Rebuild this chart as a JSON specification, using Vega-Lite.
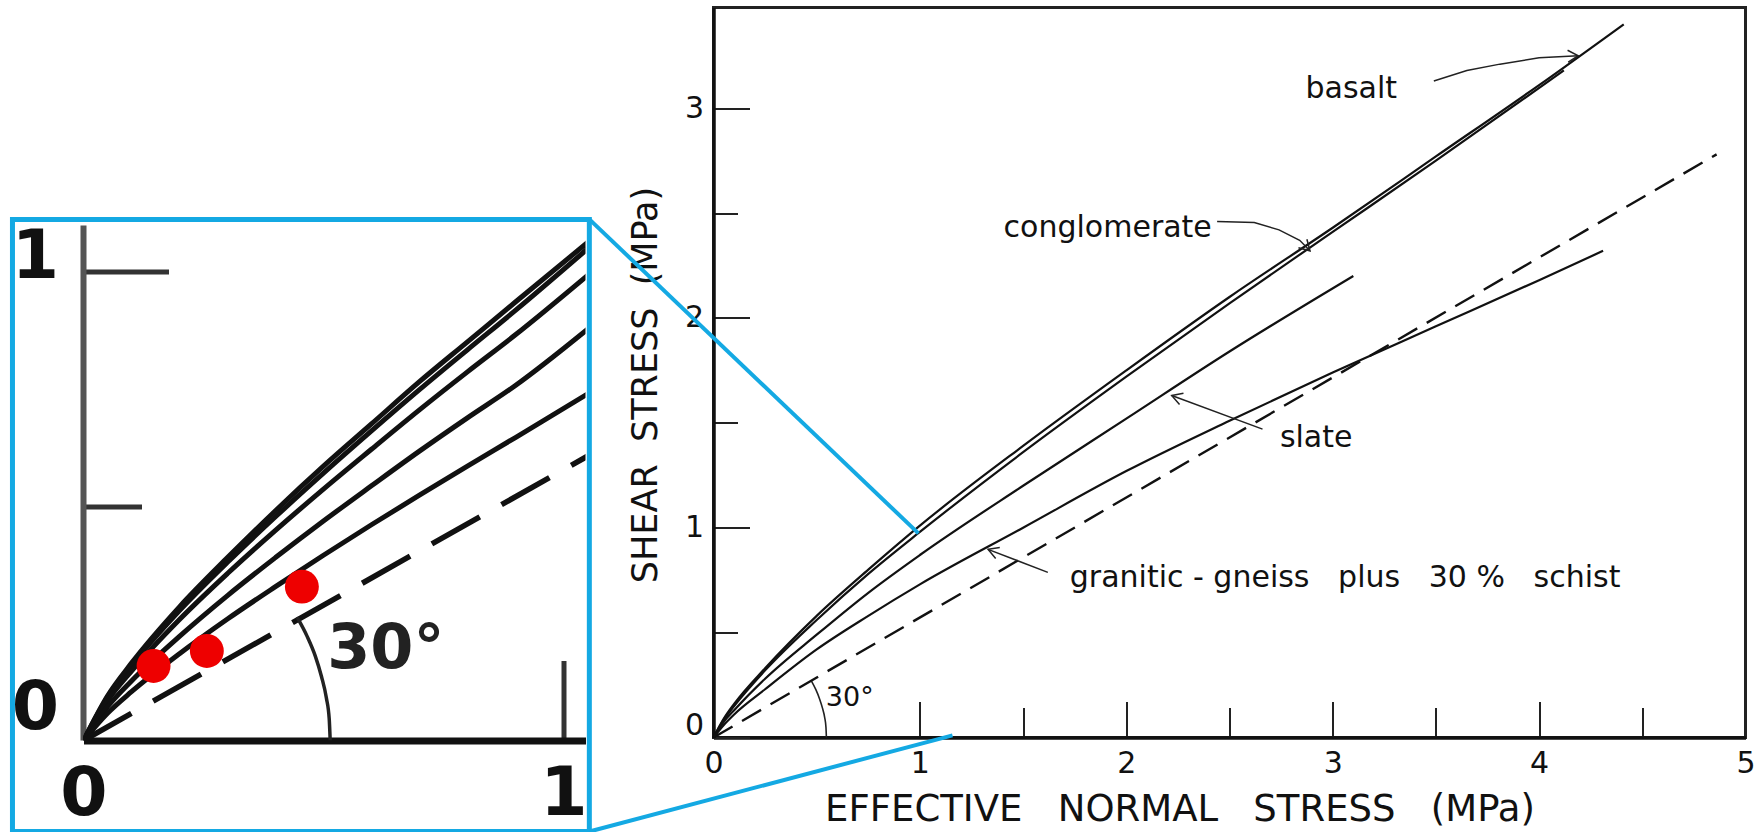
{
  "$schema": "https://vega.github.io/schema/vega-lite/v6.json",
  "background": "white",
  "padding": {"left": 9.5, "top": 5.5, "right": 0, "bottom": 0},
  "autosize": {"type": "pad"},
  "bounds": "flush",
  "spacing": 128,
  "config": {"view": {"stroke": null}, "font": "DejaVu Sans", "axis": {"grid": false, "labelOverlap": false}},
  "datasets": {
    "insetBox": [{"x": -0.148, "x2": 1.054, "y": -0.194, "y2": 1.111}],
    "insetYAxisLine": [{"x": 0, "y": 0, "y2": 1.098}],
    "insetCurves": [
      {"curve": "A", "x": 0, "y": 0}, {"curve": "A", "x": 0.05, "y": 0.095}, {"curve": "A", "x": 0.1, "y": 0.165}, {"curve": "A", "x": 0.2, "y": 0.285}, {"curve": "A", "x": 0.3, "y": 0.39}, {"curve": "A", "x": 0.4, "y": 0.49}, {"curve": "A", "x": 0.5, "y": 0.585}, {"curve": "A", "x": 0.6, "y": 0.675}, {"curve": "A", "x": 0.7, "y": 0.765}, {"curve": "A", "x": 0.8, "y": 0.85}, {"curve": "A", "x": 0.9, "y": 0.935}, {"curve": "A", "x": 1.06, "y": 1.07},
      {"curve": "B", "x": 0, "y": 0}, {"curve": "B", "x": 0.05, "y": 0.092}, {"curve": "B", "x": 0.1, "y": 0.16}, {"curve": "B", "x": 0.2, "y": 0.277}, {"curve": "B", "x": 0.3, "y": 0.38}, {"curve": "B", "x": 0.4, "y": 0.477}, {"curve": "B", "x": 0.5, "y": 0.57}, {"curve": "B", "x": 0.6, "y": 0.66}, {"curve": "B", "x": 0.7, "y": 0.748}, {"curve": "B", "x": 0.8, "y": 0.833}, {"curve": "B", "x": 0.9, "y": 0.917}, {"curve": "B", "x": 1.06, "y": 1.057},
      {"curve": "C", "x": 0, "y": 0}, {"curve": "C", "x": 0.05, "y": 0.085}, {"curve": "C", "x": 0.1, "y": 0.148}, {"curve": "C", "x": 0.2, "y": 0.258}, {"curve": "C", "x": 0.3, "y": 0.356}, {"curve": "C", "x": 0.4, "y": 0.448}, {"curve": "C", "x": 0.5, "y": 0.536}, {"curve": "C", "x": 0.6, "y": 0.621}, {"curve": "C", "x": 0.7, "y": 0.705}, {"curve": "C", "x": 0.8, "y": 0.786}, {"curve": "C", "x": 0.9, "y": 0.865}, {"curve": "C", "x": 1.06, "y": 1.0},
      {"curve": "D", "x": 0, "y": 0}, {"curve": "D", "x": 0.05, "y": 0.072}, {"curve": "D", "x": 0.1, "y": 0.127}, {"curve": "D", "x": 0.2, "y": 0.222}, {"curve": "D", "x": 0.3, "y": 0.309}, {"curve": "D", "x": 0.4, "y": 0.39}, {"curve": "D", "x": 0.5, "y": 0.468}, {"curve": "D", "x": 0.6, "y": 0.543}, {"curve": "D", "x": 0.7, "y": 0.617}, {"curve": "D", "x": 0.8, "y": 0.688}, {"curve": "D", "x": 0.9, "y": 0.757}, {"curve": "D", "x": 1.06, "y": 0.885},
      {"curve": "E", "x": 0, "y": 0}, {"curve": "E", "x": 0.05, "y": 0.058}, {"curve": "E", "x": 0.1, "y": 0.104}, {"curve": "E", "x": 0.2, "y": 0.185}, {"curve": "E", "x": 0.3, "y": 0.259}, {"curve": "E", "x": 0.4, "y": 0.328}, {"curve": "E", "x": 0.5, "y": 0.395}, {"curve": "E", "x": 0.6, "y": 0.46}, {"curve": "E", "x": 0.7, "y": 0.523}, {"curve": "E", "x": 0.8, "y": 0.585}, {"curve": "E", "x": 0.9, "y": 0.646}, {"curve": "E", "x": 1.06, "y": 0.745}
    ],
    "insetDashed": [{"x": 0, "y": 0}, {"x": 1.06, "y": 0.612}],
    "insetArc": [{"x": 0.514, "y": 0}, {"x": 0.512, "y": 0.046}, {"x": 0.506, "y": 0.091}, {"x": 0.496, "y": 0.136}, {"x": 0.483, "y": 0.18}, {"x": 0.466, "y": 0.222}, {"x": 0.445, "y": 0.263}],
    "insetDots": [{"x": 0.146, "y": 0.159}, {"x": 0.257, "y": 0.191}, {"x": 0.455, "y": 0.328}],
    "insetText": [{"x": 0.63, "y": 0.195, "label": "30°"}],
    "connectors": [{"x": -0.601, "y": 2.47, "x2": 0.993, "y2": 0.973}, {"x": -0.601, "y": -0.448, "x2": 1.158, "y2": 0.01}],
    "mainCurves": [
      {"curve": "basalt", "x": 0, "y": 0}, {"curve": "basalt", "x": 0.05, "y": 0.09}, {"curve": "basalt", "x": 0.1, "y": 0.16}, {"curve": "basalt", "x": 0.25, "y": 0.33}, {"curve": "basalt", "x": 0.5, "y": 0.58}, {"curve": "basalt", "x": 0.75, "y": 0.8}, {"curve": "basalt", "x": 1, "y": 1.01}, {"curve": "basalt", "x": 1.5, "y": 1.39}, {"curve": "basalt", "x": 2, "y": 1.75}, {"curve": "basalt", "x": 2.5, "y": 2.1}, {"curve": "basalt", "x": 3, "y": 2.43}, {"curve": "basalt", "x": 3.5, "y": 2.77}, {"curve": "basalt", "x": 4, "y": 3.11}, {"curve": "basalt", "x": 4.41, "y": 3.4},
      {"curve": "conglomerate", "x": 0, "y": 0}, {"curve": "conglomerate", "x": 0.05, "y": 0.085}, {"curve": "conglomerate", "x": 0.1, "y": 0.15}, {"curve": "conglomerate", "x": 0.25, "y": 0.32}, {"curve": "conglomerate", "x": 0.5, "y": 0.56}, {"curve": "conglomerate", "x": 0.75, "y": 0.78}, {"curve": "conglomerate", "x": 1, "y": 0.98}, {"curve": "conglomerate", "x": 1.5, "y": 1.36}, {"curve": "conglomerate", "x": 2, "y": 1.72}, {"curve": "conglomerate", "x": 2.5, "y": 2.07}, {"curve": "conglomerate", "x": 3, "y": 2.41}, {"curve": "conglomerate", "x": 3.5, "y": 2.75}, {"curve": "conglomerate", "x": 4.12, "y": 3.18},
      {"curve": "slate", "x": 0, "y": 0}, {"curve": "slate", "x": 0.05, "y": 0.075}, {"curve": "slate", "x": 0.1, "y": 0.13}, {"curve": "slate", "x": 0.25, "y": 0.28}, {"curve": "slate", "x": 0.5, "y": 0.49}, {"curve": "slate", "x": 0.75, "y": 0.69}, {"curve": "slate", "x": 1, "y": 0.87}, {"curve": "slate", "x": 1.5, "y": 1.2}, {"curve": "slate", "x": 2, "y": 1.52}, {"curve": "slate", "x": 2.5, "y": 1.84}, {"curve": "slate", "x": 3.1, "y": 2.2},
      {"curve": "granitic", "x": 0, "y": 0}, {"curve": "granitic", "x": 0.05, "y": 0.06}, {"curve": "granitic", "x": 0.1, "y": 0.11}, {"curve": "granitic", "x": 0.25, "y": 0.23}, {"curve": "granitic", "x": 0.5, "y": 0.42}, {"curve": "granitic", "x": 0.75, "y": 0.58}, {"curve": "granitic", "x": 1, "y": 0.73}, {"curve": "granitic", "x": 1.5, "y": 1.0}, {"curve": "granitic", "x": 2, "y": 1.27}, {"curve": "granitic", "x": 2.5, "y": 1.51}, {"curve": "granitic", "x": 3, "y": 1.74}, {"curve": "granitic", "x": 3.5, "y": 1.96}, {"curve": "granitic", "x": 4, "y": 2.18}, {"curve": "granitic", "x": 4.31, "y": 2.32}
    ],
    "mainDashed": [{"x": 0, "y": 0}, {"x": 4.86, "y": 2.78}],
    "mainArc": [{"x": 0.547, "y": 0}, {"x": 0.545, "y": 0.047}, {"x": 0.539, "y": 0.094}, {"x": 0.528, "y": 0.14}, {"x": 0.514, "y": 0.184}, {"x": 0.496, "y": 0.228}, {"x": 0.474, "y": 0.27}],
    "arrows": [
      {"seg": "basalt-shaft", "o": 1, "x": 3.49, "y": 3.13}, {"seg": "basalt-shaft", "o": 2, "x": 3.65, "y": 3.18}, {"seg": "basalt-shaft", "o": 3, "x": 3.81, "y": 3.21}, {"seg": "basalt-shaft", "o": 4, "x": 4.0, "y": 3.24}, {"seg": "basalt-shaft", "o": 5, "x": 4.19, "y": 3.25},
      {"seg": "basalt-head", "o": 1, "x": 4.138, "y": 3.276}, {"seg": "basalt-head", "o": 2, "x": 4.19, "y": 3.25}, {"seg": "basalt-head", "o": 3, "x": 4.141, "y": 3.219},
      {"seg": "cong-shaft", "o": 1, "x": 2.44, "y": 2.46}, {"seg": "cong-shaft", "o": 2, "x": 2.62, "y": 2.455}, {"seg": "cong-shaft", "o": 3, "x": 2.74, "y": 2.42}, {"seg": "cong-shaft", "o": 4, "x": 2.84, "y": 2.37}, {"seg": "cong-shaft", "o": 5, "x": 2.89, "y": 2.32},
      {"seg": "cong-head", "o": 1, "x": 2.875, "y": 2.375}, {"seg": "cong-head", "o": 2, "x": 2.89, "y": 2.32}, {"seg": "cong-head", "o": 3, "x": 2.834, "y": 2.335},
      {"seg": "slate-shaft", "o": 1, "x": 2.66, "y": 1.47}, {"seg": "slate-shaft", "o": 2, "x": 2.22, "y": 1.63},
      {"seg": "slate-head", "o": 1, "x": 2.258, "y": 1.587}, {"seg": "slate-head", "o": 2, "x": 2.22, "y": 1.63}, {"seg": "slate-head", "o": 3, "x": 2.277, "y": 1.641},
      {"seg": "granitic-shaft", "o": 1, "x": 1.62, "y": 0.787}, {"seg": "granitic-shaft", "o": 2, "x": 1.33, "y": 0.897},
      {"seg": "granitic-head", "o": 1, "x": 1.367, "y": 0.853}, {"seg": "granitic-head", "o": 2, "x": 1.33, "y": 0.897}, {"seg": "granitic-head", "o": 3, "x": 1.387, "y": 0.906}
    ],
    "mainText": [
      {"x": 3.09, "y": 3.09, "label": "basalt"},
      {"x": 1.91, "y": 2.43, "label": "conglomerate"},
      {"x": 2.92, "y": 1.43, "label": "slate"},
      {"x": 3.06, "y": 0.76, "label": "granitic - gneiss\u00a0\u00a0\u00a0plus\u00a0\u00a0\u00a030 %\u00a0\u00a0\u00a0schist"}
    ],
    "mainAngle": [{"x": 0.66, "y": 0.19, "label": "30°"}]
  },
  "hconcat": [
    {
      "width": 502,
      "height": 733,
      "encoding": {
        "x": {
          "field": "x", "type": "quantitative",
          "scale": {"domain": [0, 1.046], "nice": false, "zero": false},
          "axis": {
            "values": [0, 1], "title": null, "grid": false, "labelOverlap": false,
            "labelExpr": "format(datum.value, 'd')",
            "tickSize": -80, "tickWidth": 5,
            "tickColor": {"condition": {"test": "datum.value === 0", "value": "transparent"}, "value": "#333"},
            "labelPadding": 100, "labelFontSize": 68, "labelFontWeight": "bold", "labelFont": "DejaVu Sans", "labelColor": "#111", "labelFlush": false,
            "domainColor": "#111", "domainWidth": 7
          }
        },
        "y": {
          "field": "y", "type": "quantitative",
          "scale": {"domain": [0, 1.5629], "nice": false, "zero": false},
          "axis": {
            "values": [0, 0.5, 1], "title": null, "grid": false, "domain": false, "labelOverlap": false,
            "tickSize": {"condition": {"test": "datum.value === 0.5", "value": -58}, "value": -85},
            "tickWidth": 5,
            "tickColor": {"condition": {"test": "datum.value === 0", "value": "transparent"}, "value": "#333"},
            "labelPadding": 110, "labelFontSize": 68, "labelFontWeight": "bold", "labelFont": "DejaVu Sans", "labelColor": "#111", "labelFlush": false,
            "labelExpr": "datum.value === 0.5 ? '' : format(datum.value, 'd')",
            "labelOffset": {"condition": {"test": "datum.value === 0", "value": -32}, "value": -14}
          }
        }
      },
      "layer": [
        {"data": {"name": "insetBox"}, "mark": {"type": "rect", "filled": false, "stroke": "#14A9E3", "strokeWidth": 5, "clip": false}, "encoding": {"x2": {"field": "x2"}, "y2": {"field": "y2"}}},
        {"data": {"name": "insetYAxisLine"}, "mark": {"type": "rule", "color": "#555", "strokeWidth": 6}, "encoding": {"y2": {"field": "y2"}}},
        {"data": {"name": "insetCurves"}, "mark": {"type": "line", "clip": true, "color": "#111", "strokeWidth": 5, "interpolate": "monotone"}, "encoding": {"detail": {"field": "curve", "type": "nominal"}}},
        {"data": {"name": "insetDashed"}, "mark": {"type": "line", "clip": true, "color": "#111", "strokeWidth": 5.5, "strokeDash": [55, 25]}, "encoding": {}},
        {"data": {"name": "insetArc"}, "mark": {"type": "line", "clip": true, "color": "#222", "strokeWidth": 3.5, "interpolate": "monotone"}, "encoding": {}},
        {"data": {"name": "insetDots"}, "mark": {"type": "point", "filled": true, "color": "#EE0000", "opacity": 1, "size": 1150, "strokeWidth": 0}, "encoding": {}},
        {"data": {"name": "insetText"}, "mark": {"type": "text", "fontSize": 62, "fontWeight": "bold", "font": "DejaVu Sans", "color": "#222", "align": "center", "baseline": "middle"}, "encoding": {"text": {"field": "label", "type": "nominal"}}}
      ]
    },
    {
      "width": 1032,
      "height": 730,
      "view": {"stroke": "#222", "strokeWidth": 3},
      "encoding": {
        "x": {
          "field": "x", "type": "quantitative",
          "scale": {"domain": [0, 5], "nice": false, "zero": false},
          "axis": {
            "values": [0, 1, 1.5, 2, 2.5, 3, 3.5, 4, 4.5, 5], "grid": false, "labelOverlap": false,
            "tickSize": {"condition": {"test": "datum.value % 1 === 0", "value": -36}, "value": -30},
            "tickWidth": 2, "tickColor": "#222",
            "labelPadding": 47, "labelFontSize": 30, "labelFont": "DejaVu Sans", "labelColor": "#111", "labelFlush": false,
            "labelExpr": "datum.value % 1 === 0 ? format(datum.value, 'd') : ''",
            "domainColor": "#111", "domainWidth": 3.5,
            "title": "EFFECTIVE\u00a0\u00a0\u00a0NORMAL\u00a0\u00a0\u00a0STRESS\u00a0\u00a0\u00a0(MPa)",
            "titleFontSize": 37, "titleFontWeight": "normal", "titleFont": "DejaVu Sans", "titleColor": "#111",
            "titleX": 466, "titleY": 72, "titleAlign": "center", "titleBaseline": "middle"
          }
        },
        "y": {
          "field": "y", "type": "quantitative",
          "scale": {"domain": [0, 3.48], "nice": false, "zero": false},
          "axis": {
            "values": [0, 0.5, 1, 1.5, 2, 2.5, 3], "grid": false, "labelOverlap": false,
            "tickSize": {"condition": {"test": "datum.value % 1 === 0", "value": -36}, "value": -24},
            "tickWidth": 2, "tickColor": "#222",
            "labelPadding": 46, "labelFontSize": 30, "labelFont": "DejaVu Sans", "labelColor": "#111", "labelFlush": false,
            "labelExpr": "datum.value % 1 === 0 ? format(datum.value, 'd') : ''",
            "labelOffset": {"condition": {"test": "datum.value === 0", "value": -12}, "value": 0},
            "domainColor": "#111", "domainWidth": 3.5,
            "title": "SHEAR\u00a0\u00a0STRESS\u00a0\u00a0(MPa)",
            "titleFontSize": 35, "titleFontWeight": "normal", "titleFont": "DejaVu Sans", "titleColor": "#111",
            "titleX": -68, "titleY": 377, "titleAlign": "center", "titleBaseline": "middle", "titleAngle": -90
          }
        }
      },
      "layer": [
        {"data": {"name": "mainArc"}, "mark": {"type": "line", "color": "#222", "strokeWidth": 1.6, "interpolate": "monotone"}, "encoding": {}},
        {"data": {"name": "mainDashed"}, "mark": {"type": "line", "color": "#111", "strokeWidth": 2.4, "strokeDash": [22, 11]}, "encoding": {}},
        {"data": {"name": "mainCurves"}, "mark": {"type": "line", "color": "#111", "strokeWidth": 2.2, "interpolate": "monotone"}, "encoding": {"detail": {"field": "curve", "type": "nominal"}}},
        {"data": {"name": "arrows"}, "mark": {"type": "line", "color": "#222", "strokeWidth": 1.5}, "encoding": {"detail": {"field": "seg", "type": "nominal"}, "order": {"field": "o", "type": "quantitative"}}},
        {"data": {"name": "mainText"}, "mark": {"type": "text", "fontSize": 30, "font": "DejaVu Sans", "color": "#111", "align": "center", "baseline": "middle"}, "encoding": {"text": {"field": "label", "type": "nominal"}}},
        {"data": {"name": "mainAngle"}, "mark": {"type": "text", "fontSize": 27, "font": "DejaVu Sans", "color": "#111", "align": "center", "baseline": "middle"}, "encoding": {"text": {"field": "label", "type": "nominal"}}},
        {"data": {"name": "connectors"}, "mark": {"type": "rule", "color": "#14A9E3", "strokeWidth": 4, "clip": false}, "encoding": {"x2": {"field": "x2"}, "y2": {"field": "y2"}}}
      ]
    }
  ]
}
